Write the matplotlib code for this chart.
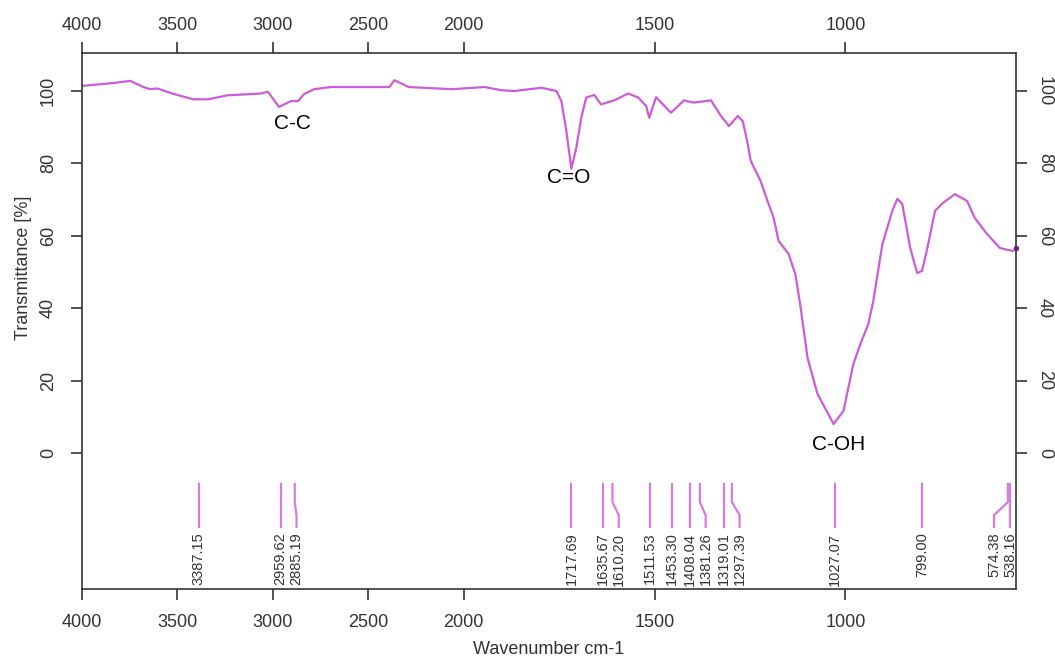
import numpy as np
import matplotlib
matplotlib.use('Agg')
import matplotlib.pyplot as plt
from matplotlib import font_manager
from matplotlib.transforms import ScaledTranslation

# FTIR spectrum (wavenumber cm-1, transmittance %)
wavenumber = [4000, 3837, 3747, 3679, 3642, 3605, 3521, 3416, 3342, 3237,
              3063, 3026, 2968, 2921, 2905, 2868, 2837, 2784, 2695, 2389,
              2363, 2289, 2063, 1945, 1901, 1867, 1796, 1757, 1744, 1731,
              1718, 1705, 1692, 1679, 1658, 1640, 1606, 1569, 1543, 1522,
              1514, 1496, 1457, 1423, 1397, 1352, 1326, 1305, 1282, 1269,
              1256, 1248, 1222, 1204, 1188, 1175, 1149, 1131, 1117, 1099,
              1073, 1031, 1005, 979, 961, 940, 927, 903, 877, 864,
              851, 830, 812, 799, 783, 765, 744, 713, 681, 661,
              629, 595, 561, 553]
transmittance = [101.4, 102.2, 102.8, 101.1, 100.5, 100.7, 99.2, 97.7, 97.7, 98.8,
                 99.3, 99.8, 95.6, 96.8, 97.2, 97.2, 99.1, 100.5, 101.1, 101.1,
                 103.0, 101.1, 100.5, 101.1, 100.2, 100.0, 100.9, 100.0, 97.2, 89.0,
                 78.5, 84.3, 92.6, 98.2, 98.9, 96.3, 97.4, 99.3, 98.2, 95.9,
                 92.6, 98.3, 94.0, 97.4, 96.8, 97.4, 93.1, 90.3, 93.1, 91.7,
                 85.5, 80.7, 75.1, 69.6, 65.0, 58.6, 55.0, 49.4, 40.0, 26.2,
                 16.3, 8.0, 11.6, 24.6, 30.0, 35.6, 41.9, 57.7, 66.9, 70.2,
                 68.8, 56.6, 49.7, 50.3, 57.7, 66.9, 69.1, 71.5, 69.6, 64.9,
                 60.5, 56.6, 55.8, 56.5]

peaks = [3387.15, 2959.62, 2885.19, 1717.69, 1635.67, 1610.20, 1511.53, 1453.30,
         1408.04, 1381.26, 1319.01, 1297.39, 1027.07, 799.00, 574.38, 538.16]

bands = ['C-C', 'C=O', 'C-OH']
band_x = [2895, 1726, 1018]
band_y = [90.9, 76.2, 2.2]

x_ticks = [4000, 3500, 3000, 2500, 2000, 1500, 1000]
y_ticks = [0, 20, 40, 60, 80, 100]

plt.rcParams['font.family'] = ['Liberation Sans', 'DejaVu Sans']
installed = {f.name for f in font_manager.fontManager.ttflist}
if 'Liberation Sans Narrow' in installed:
    peak_font, peak_size = 'Liberation Sans Narrow', 12.5
else:
    peak_font, peak_size = 'Liberation Sans', 10.5

line_col = '#CC5CD8'
mark_col = '#D77BE0'
axis_col = '#333333'


# wavenumbers above 2000 are drawn at half scale
def forward(x):
    x = np.asarray(x, dtype=float)
    return np.where(x > 2000, 2000 + (x - 2000) / 2, x)


def inverse(x):
    x = np.asarray(x, dtype=float)
    return np.where(x > 2000, 2000 + (x - 2000) * 2, x)


fig = plt.figure(figsize=(10.55, 6.58), dpi=100)
ax = fig.add_axes([82 / 1055, 1 - 589 / 658, 934 / 1055, 536 / 658])

ax.set_xscale('function', functions=(forward, inverse))
ax.set_xlim(4000, 553)
ax.set_ylim(-37.6, 110.5)

ax.plot(wavenumber, transmittance, color=line_col, lw=1.6)
ax.plot(wavenumber[-1], transmittance[-1], 'o', ms=3, color='#8A2A90', clip_on=False)

for name, bx, by in zip(bands, band_x, band_y):
    ax.text(bx, by, name, fontsize=15, ha='center', va='center', color='black')

# peak markers in the lower band, spread so labels do not overlap
pix = ax.transData.transform(np.column_stack([peaks, np.zeros(len(peaks))]))[:, 0]
right_px = ax.transData.transform((553, 0))[0] - 6
gap = 16
pos = list(pix)
for i in range(1, len(pos)):
    pos[i] = max(pos[i], pos[i - 1] + gap)
pos[-1] = min(pos[-1], right_px)
for i in range(len(pos) - 2, -1, -1):
    pos[i] = min(pos[i], pos[i + 1] - gap)
top_px = np.minimum(pix, right_px)

inv_t = ax.transData.inverted()
top_x = inv_t.transform(np.column_stack([top_px, np.zeros(len(peaks))]))[:, 0]
lab_x = inv_t.transform(np.column_stack([pos, np.zeros(len(peaks))]))[:, 0]

for p, tx, lx in zip(peaks, top_x, lab_x):
    ax.plot([tx, tx, lx, lx], [-8.6, -13.6, -17.2, -20.4], color=mark_col, lw=1.6)
    ax.text(lx, -22.0, f'{p:.2f}', rotation=90, ha='center', va='top',
            fontsize=peak_size, family=peak_font, color='#333333')

ax.set_xticks(x_ticks)
ax.set_xticklabels([str(t) for t in x_ticks])
ax.set_yticks(y_ticks)
ax.set_yticklabels([str(t) for t in y_ticks])
ax.minorticks_off()

ax.tick_params(axis='x', top=True, labeltop=True, direction='out', length=8,
               width=1.2, color=axis_col, labelsize=13, labelcolor='#333333', pad=10)
ax.tick_params(axis='y', right=True, labelright=True, direction='out', length=8,
               width=1.2, color=axis_col, labelsize=13, labelcolor='#333333', pad=10)
down = ScaledTranslation(0, -6 / 100, fig.dpi_scale_trans)
left = ScaledTranslation(-5 / 100, 0, fig.dpi_scale_trans)
for t in ax.xaxis.get_major_ticks():
    t.label2.set_transform(t.label2.get_transform() + down)
for t in ax.yaxis.get_major_ticks():
    t.label1.set_rotation(90)
    t.label1.set_verticalalignment('center')
    t.label2.set_rotation(-90)
    t.label2.set_verticalalignment('center')
    t.label2.set_transform(t.label2.get_transform() + left)

for s in ax.spines.values():
    s.set_color(axis_col)
    s.set_linewidth(1.2)

ax.set_xlabel('Wavenumber cm-1', fontsize=13, color='#333333', labelpad=7.5)
ax.set_ylabel('Transmittance [%]', fontsize=13, color='#333333')
ax.yaxis.set_label_coords(-0.0535, 0.6)

fig.savefig('out.png', dpi=100)
